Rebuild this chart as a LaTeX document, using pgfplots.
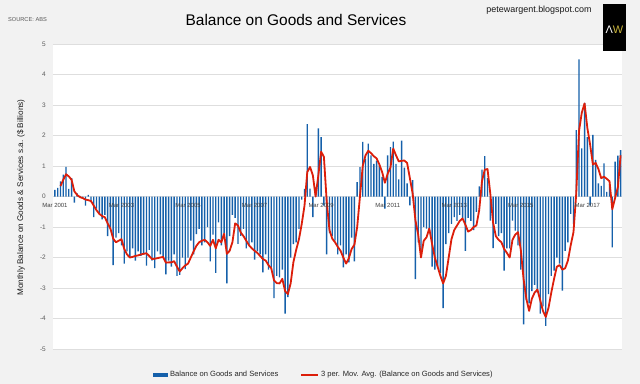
\documentclass[border=0pt]{standalone}
\usepackage{fontspec}
\setmainfont{Liberation Sans}
\usepackage{pgfplots}
\pgfplotsset{compat=1.18}
\usepackage{pgfplotstable}
\definecolor{bggray}{HTML}{F2F2F2}
\definecolor{gridgray}{HTML}{DEDEDE}
\definecolor{barblue}{HTML}{1560AA}
\definecolor{mared}{HTML}{DC1E0A}
\definecolor{ticktext}{HTML}{595959}
\definecolor{awgold}{HTML}{C8B43C}

\pgfplotstableread{
x y
0 0.22
1 0.28
2 0.50
3 0.72
4 0.97
5 0.25
6 0.60
7 -0.20
8 0.10
9 0.02
10 -0.05
11 -0.30
12 0.05
13 -0.15
14 -0.68
15 -0.40
16 -0.55
17 -0.75
18 -0.60
19 -1.30
20 -1.00
21 -2.25
22 -1.35
23 -1.20
24 -1.60
25 -2.20
26 -1.80
27 -2.00
28 -1.70
29 -2.10
30 -1.80
31 -1.95
32 -1.90
33 -2.27
34 -1.75
35 -2.10
36 -2.35
37 -1.80
38 -1.90
39 -2.00
40 -2.55
41 -2.10
42 -2.30
43 -1.90
44 -2.60
45 -2.57
46 -2.00
47 -2.38
48 -2.00
49 -1.45
50 -1.90
51 -1.23
52 -1.06
53 -1.60
54 -1.50
55 -1.00
56 -2.13
57 -1.25
58 -2.50
59 -0.85
60 -1.60
61 -1.20
62 -2.85
63 -1.30
64 -0.60
65 -0.70
66 -1.55
67 -1.29
68 -1.06
69 -1.70
70 -1.60
71 -1.50
72 -2.07
73 -1.80
74 -1.90
75 -2.49
76 -1.90
77 -2.40
78 -2.32
79 -3.33
80 -2.60
81 -2.65
82 -2.40
83 -3.84
84 -3.30
85 -2.00
86 -1.56
87 -1.50
88 -1.06
89 -0.10
90 0.25
91 2.37
92 0.26
93 -0.68
94 0.30
95 2.23
96 1.95
97 -0.30
98 -1.90
99 -1.20
100 -1.30
101 -1.45
102 -1.90
103 -1.60
104 -2.32
105 -1.90
106 -2.16
107 -1.35
108 -2.13
109 0.47
110 0.96
111 1.79
112 1.24
113 1.73
114 1.35
115 1.07
116 1.18
117 1.02
118 0.64
119 -0.40
120 1.35
121 1.62
122 1.80
123 1.07
124 0.56
125 1.83
126 0.95
127 0.43
128 -0.29
129 0.54
130 -2.71
131 -1.50
132 -1.90
133 -1.00
134 -1.05
135 -1.20
136 -2.30
137 -2.40
138 -2.30
139 -2.50
140 -3.66
141 -1.56
142 -1.20
143 -0.90
144 -0.68
145 -0.80
146 -0.60
147 -0.70
148 -1.78
149 -0.70
150 -0.80
151 -1.10
152 -0.50
153 0.33
154 0.88
155 1.32
156 0.60
157 -0.79
158 -1.69
159 -0.90
160 -1.30
161 -1.20
162 -2.43
163 -1.70
164 -1.70
165 -0.79
166 -1.12
167 -1.60
168 -2.40
169 -4.19
170 -3.40
171 -3.50
172 -3.10
173 -2.90
174 -3.15
175 -3.84
176 -3.60
177 -4.24
178 -3.20
179 -2.60
180 -2.43
181 -2.00
182 -2.20
183 -3.09
184 -1.78
185 -1.50
186 -0.57
187 -0.90
188 2.18
189 4.50
190 1.58
191 3.07
192 1.95
193 -0.30
194 2.02
195 1.20
196 0.43
197 0.35
198 1.09
199 0.15
200 0.40
201 -1.67
202 1.14
203 1.34
204 1.52
}\bars

\pgfplotstableread{
x y
2 0.34
3 0.55
4 0.73
5 0.66
6 0.55
7 0.17
8 0.05
9 -0.02
10 -0.05
11 -0.10
12 -0.12
13 -0.15
14 -0.30
15 -0.45
16 -0.57
17 -0.64
18 -0.68
19 -0.88
20 -1.05
21 -1.38
22 -1.50
23 -1.45
24 -1.40
25 -1.72
26 -1.90
27 -2.00
28 -1.98
29 -1.95
30 -1.93
31 -1.90
32 -1.88
33 -1.86
34 -1.95
35 -2.05
36 -2.04
37 -2.02
38 -2.00
39 -1.98
40 -2.17
41 -2.16
42 -2.16
43 -2.12
44 -2.30
45 -2.46
46 -2.35
47 -2.26
48 -2.20
49 -2.00
50 -1.80
51 -1.62
52 -1.50
53 -1.45
54 -1.42
55 -1.50
56 -1.62
57 -1.42
58 -1.70
59 -1.42
60 -1.50
61 -1.22
62 -1.88
63 -1.78
64 -1.50
65 -0.88
66 -0.95
67 -1.18
68 -1.30
69 -1.45
70 -1.60
71 -1.70
72 -1.78
73 -1.85
74 -1.95
75 -2.05
76 -2.10
77 -2.25
78 -2.35
79 -2.75
80 -2.84
81 -2.85
82 -2.70
83 -3.10
84 -3.20
85 -2.85
86 -2.15
87 -1.75
88 -1.40
89 -0.90
90 -0.30
91 0.80
92 0.97
93 0.70
94 0.00
95 0.70
96 1.47
97 1.30
98 -0.15
99 -1.10
100 -1.38
101 -1.50
102 -1.65
103 -1.78
104 -2.00
105 -2.20
106 -2.02
107 -1.72
108 -1.58
109 -1.00
110 0.00
111 1.00
112 1.35
113 1.50
114 1.42
115 1.32
116 1.25
117 1.05
118 0.80
119 0.45
120 0.75
121 0.95
122 1.57
123 1.35
124 1.15
125 1.17
126 1.18
127 1.10
128 0.60
129 0.10
130 -0.78
131 -1.25
132 -2.00
133 -1.45
134 -1.34
135 -1.05
136 -1.55
137 -2.00
138 -2.30
139 -2.60
140 -2.85
141 -2.60
142 -2.00
143 -1.40
144 -1.10
145 -0.95
146 -0.80
147 -0.72
148 -0.92
149 -1.15
150 -1.10
151 -1.00
152 -0.95
153 -0.45
154 0.50
155 0.88
156 0.90
157 0.10
158 -0.85
159 -1.30
160 -1.42
161 -1.50
162 -1.72
163 -1.85
164 -2.00
165 -1.42
166 -1.25
167 -1.17
168 -1.75
169 -2.70
170 -3.35
171 -3.75
172 -3.35
173 -3.15
174 -3.05
175 -3.40
176 -3.75
177 -3.95
178 -3.65
179 -3.15
180 -2.70
181 -2.30
182 -2.25
183 -2.40
184 -2.35
185 -2.10
186 -1.60
187 -1.17
188 0.10
189 2.15
190 2.75
191 3.05
192 2.25
193 1.70
194 1.05
195 1.10
196 0.90
197 0.60
198 0.65
199 0.58
200 0.50
201 -0.42
202 -0.05
203 0.30
204 1.35
}\ma

\begin{document}
\begin{tikzpicture}
\path[use as bounding box, fill=bggray] (0,0) rectangle (640bp,384bp);
\begin{axis}[
  at={(53bp,35bp)}, anchor=south west,
  scale only axis, width=569bp, height=305bp,
  xmin=-0.7, xmax=204.5, ymin=-5, ymax=5,
  axis background/.style={fill=white},
  axis line style={draw=none},
  xtick=\empty,
  ytick={-5,-4,-3,-2,-1,0,1,2,3,4,5},
  yticklabels={-5,-4,-3,-2,-1,0,1,2,3,4,5},
  ymajorgrids,
  major grid style={gridgray, line width=0.8bp},
  major tick length=0pt,
  yticklabel style={font=\fontsize{6.5}{7}\selectfont, text=ticktext, inner sep=0pt, xshift=-7bp},
  ylabel={Monthly Balance on Goods \& Services s.a. (\$ Billions)},
  every axis y label/.style={at={(axis description cs:-0.0562,0.4967)}, rotate=90, anchor=center, font=\fontsize{8.2}{9}\selectfont, text=black!90},
  title={Balance on Goods and Services},
  every axis title/.style={at={(axis description cs:0.427,1.0787)}, anchor=center, font=\fontsize{15.5}{17}\selectfont, text=black},
  legend style={at={(axis description cs:0.1757,-0.0852)}, anchor=west, draw=none, fill=none, inner sep=0pt,
    font=\fontsize{7.6}{9}\selectfont, text=black!85, /tikz/every even column/.append style={column sep=20bp}},
  legend columns=2,
  legend cell align=left,
  clip=false,
]
\addplot[ybar, bar width=0.5, fill=barblue, draw=none,
  legend image code/.code={\fill[barblue] (0bp,-2.2bp) rectangle (15bp,2.2bp);}] table {\bars};
\addlegendentry{Balance on Goods and Services}
\addplot[mared, line width=1.8bp, line join=round,
  legend image code/.code={\draw[mared, line width=1.8bp] (0bp,0bp) -- (17bp,0bp);}] table {\ma};
\addlegendentry{3 per. Mov. Avg. (Balance on Goods and Services)}
\node[font=\fontsize{6}{7}\selectfont, text=black!75] at (axis cs:0,-0.3) {Mar 2001};
\node[font=\fontsize{6}{7}\selectfont, text=black!75] at (axis cs:24,-0.3) {Mar 2003};
\node[font=\fontsize{6}{7}\selectfont, text=black!75] at (axis cs:48,-0.3) {Mar 2005};
\node[font=\fontsize{6}{7}\selectfont, text=black!75] at (axis cs:72,-0.3) {Mar 2007};
\node[font=\fontsize{6}{7}\selectfont, text=black!75] at (axis cs:96,-0.3) {Mar 2009};
\node[font=\fontsize{6}{7}\selectfont, text=black!75] at (axis cs:120,-0.3) {Mar 2011};
\node[font=\fontsize{6}{7}\selectfont, text=black!75] at (axis cs:144,-0.3) {Mar 2013};
\node[font=\fontsize{6}{7}\selectfont, text=black!75] at (axis cs:168,-0.3) {Mar 2015};
\node[font=\fontsize{6}{7}\selectfont, text=black!75] at (axis cs:192,-0.3) {Mar 2017};
\end{axis}
\node[font=\fontsize{5.7}{6}\selectfont, text=ticktext] at (27.5bp,364.4bp) {SOURCE: ABS};
\node[font=\fontsize{9}{10}\selectfont, text=black!90] at (539bp,374bp) {petewargent.blogspot.com};
\fill[black] (603bp,333bp) rectangle (626bp,380bp);
\node[font=\fontsize{11}{12}\selectfont, inner sep=0pt] at (614.5bp,354bp) {\textcolor{white}{Λ}\textcolor{awgold}{W}};
\end{tikzpicture}
\end{document}
